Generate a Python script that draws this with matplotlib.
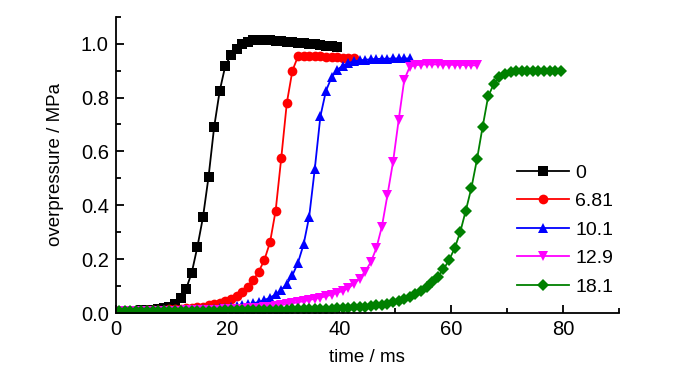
import numpy as np
import matplotlib
matplotlib.use("Agg")
import matplotlib.pyplot as plt
from matplotlib.ticker import MultipleLocator, FormatStrFormatter

# sample spacing of the recordings (ms)
t_start = 0.6
dt = 1.0

labels = ["0", "6.81", "10.1", "12.9", "18.1"]

p_0 = [0.008, 0.008, 0.009, 0.009, 0.010, 0.011, 0.012, 0.014, 0.018, 0.024,
       0.035, 0.056, 0.090, 0.150, 0.245, 0.355, 0.505, 0.690, 0.825, 0.918,
       0.957, 0.982, 0.998, 1.007, 1.012, 1.014, 1.014, 1.013, 1.011, 1.009,
       1.007, 1.005, 1.003, 1.001, 0.999, 0.997, 0.995, 0.993, 0.991, 0.989]

p_681 = [0.008, 0.008, 0.008, 0.009, 0.009, 0.010, 0.010, 0.011, 0.012, 0.013,
         0.014, 0.015, 0.017, 0.019, 0.021, 0.024, 0.028, 0.032, 0.037, 0.044,
         0.053, 0.064, 0.078, 0.097, 0.122, 0.154, 0.198, 0.263, 0.380, 0.575,
         0.780, 0.900, 0.953, 0.955, 0.955, 0.954, 0.953, 0.952, 0.951, 0.950,
         0.948, 0.947, 0.945]

p_101 = [0.008, 0.008, 0.008, 0.008, 0.008, 0.009, 0.009, 0.009, 0.010, 0.010,
         0.011, 0.011, 0.012, 0.012, 0.013, 0.014, 0.015, 0.016, 0.018, 0.020,
         0.022, 0.025, 0.028, 0.032, 0.036, 0.041, 0.048, 0.057, 0.069, 0.086,
         0.108, 0.140, 0.187, 0.255, 0.358, 0.535, 0.730, 0.825, 0.875, 0.903,
         0.918, 0.928, 0.934, 0.938, 0.940, 0.942, 0.943, 0.944, 0.944, 0.945,
         0.945, 0.945, 0.945]

p_129 = [0.008, 0.008, 0.008, 0.008, 0.008, 0.008, 0.008, 0.009, 0.009, 0.009,
         0.009, 0.009, 0.010, 0.010, 0.010, 0.011, 0.011, 0.012, 0.012, 0.013,
         0.014, 0.015, 0.016, 0.017, 0.018, 0.020, 0.022, 0.024, 0.027, 0.030,
         0.033, 0.036, 0.040, 0.044, 0.048, 0.053, 0.057, 0.062, 0.068, 0.075,
         0.082, 0.092, 0.108, 0.128, 0.154, 0.188, 0.240, 0.321, 0.439, 0.562,
         0.717, 0.866, 0.915, 0.920, 0.922, 0.923, 0.923, 0.923, 0.922, 0.922,
         0.921, 0.921, 0.920, 0.920, 0.919]

p_181 = [0.008, 0.008, 0.008, 0.008, 0.008, 0.008, 0.008, 0.008, 0.008, 0.008,
         0.008, 0.008, 0.009, 0.009, 0.009, 0.009, 0.009, 0.009, 0.009, 0.010,
         0.010, 0.010, 0.010, 0.010, 0.011, 0.011, 0.011, 0.011, 0.012, 0.012,
         0.012, 0.013, 0.013, 0.013, 0.014, 0.014, 0.015, 0.015, 0.016, 0.017,
         0.018, 0.019, 0.021, 0.022, 0.024, 0.026, 0.028, 0.031, 0.035, 0.040,
         0.046, 0.052, 0.060, 0.070, 0.082, 0.097, 0.114, 0.135, 0.162, 0.196,
         0.240, 0.300, 0.380, 0.464, 0.570, 0.690, 0.804, 0.850, 0.876, 0.889,
         0.895, 0.898, 0.899, 0.900, 0.900, 0.900, 0.900, 0.900, 0.900, 0.900]

series = [p_0, p_681, p_101, p_129, p_181]
colors = ["black", "#ff0000", "#0000ff", "#ff00ff", "#008000"]
markers = ["s", "o", "^", "v", "D"]
msizes = [7.0, 7.0, 7.5, 7.5, 6.5]

plt.rcParams["font.family"] = ["Liberation Sans", "DejaVu Sans"]

fig = plt.figure(figsize=(7, 3.74), dpi=100)
ax = fig.add_axes([0.1653, 0.1631, 0.719, 0.7922])

for y, c, m, ms, lab in zip(series, colors, markers, msizes, labels):
    t = t_start + dt * np.arange(len(y))
    ax.plot(t, y, color=c, marker=m, markersize=ms, linewidth=1.3,
            markeredgewidth=0, label=lab)

ax.set_xlim(0, 90)
ax.set_ylim(0, 1.1)
ax.xaxis.set_major_locator(MultipleLocator(20))
ax.xaxis.set_minor_locator(MultipleLocator(10))
ax.yaxis.set_major_locator(MultipleLocator(0.2))
ax.yaxis.set_minor_locator(MultipleLocator(0.1))
ax.yaxis.set_major_formatter(FormatStrFormatter("%.1f"))
ax.spines["top"].set_visible(False)
ax.spines["right"].set_visible(False)
for s in ("left", "bottom"):
    ax.spines[s].set_linewidth(1.3)
ax.tick_params(which="major", direction="in", length=6, width=1.3,
               labelsize=14.5, pad=5)
ax.tick_params(which="minor", direction="in", length=3.5, width=1.3)

ax.set_xlabel("time / ms", fontsize=13.5, labelpad=7)
ax.set_ylabel("overpressure / MPa", fontsize=13.5, labelpad=12)

ax.legend(frameon=False, fontsize=14, loc="upper left",
          bbox_to_anchor=(517 / 700, 1 - 164 / 374),
          bbox_transform=fig.transFigure, borderpad=0, borderaxespad=0,
          handlelength=2.65, handletextpad=0.35, labelspacing=0.56)

fig.savefig("out.png", dpi=100)
